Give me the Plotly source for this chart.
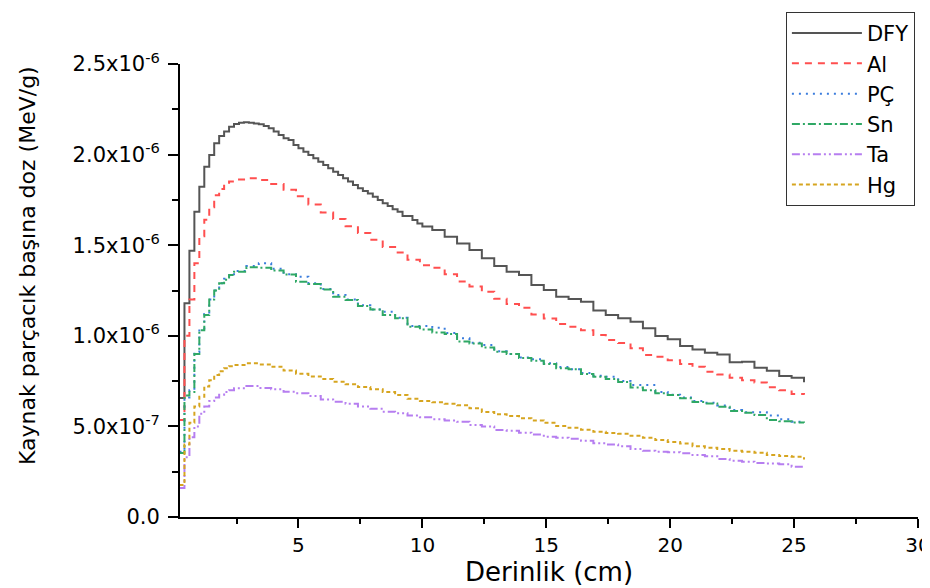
import plotly.graph_objects as go

# ---------------- data (dose per source particle, MeV/g, x1e-6) ----------------
depth_dfy = [0.2, 0.4, 0.6, 0.8, 1.0, 1.2, 1.4, 1.6, 1.8, 2.0,
             2.2, 2.4, 2.6, 2.8, 3.0, 3.2, 3.4, 3.6, 3.8, 4.0,
             4.2, 4.4, 4.6, 4.8, 5.0, 5.2, 5.4, 5.6, 5.8, 6.0,
             6.2, 6.4, 6.6, 6.8, 7.0, 7.2, 7.4, 7.6, 7.8, 8.0,
             8.2, 8.4, 8.6, 8.8, 9.0, 9.2, 9.4, 9.6, 9.8, 10.0,
             10.4, 10.9, 11.4, 11.9, 12.4, 12.9, 13.4, 13.9, 14.4, 14.9,
             15.4, 15.9, 16.4, 16.9, 17.4, 17.9, 18.4, 18.9, 19.4, 19.9,
             20.4, 20.9, 21.4, 21.9, 22.4, 22.9, 23.4, 23.9, 24.4, 24.9, 25.4]
dfy = [0.657, 1.18, 1.47, 1.685, 1.823, 1.933, 1.998, 2.062, 2.103, 2.127,
       2.154, 2.169, 2.176, 2.178, 2.176, 2.172, 2.167, 2.158, 2.145, 2.127,
       2.108, 2.09, 2.08, 2.053, 2.035, 2.016, 1.998, 1.98, 1.961, 1.943,
       1.924, 1.906, 1.887, 1.869, 1.851, 1.832, 1.814, 1.799, 1.786, 1.768,
       1.749, 1.731, 1.716, 1.698, 1.685, 1.661, 1.661, 1.639, 1.62, 1.603,
       1.584, 1.547, 1.51, 1.473, 1.428, 1.385, 1.354, 1.336, 1.28, 1.253,
       1.216, 1.203, 1.188, 1.139, 1.115, 1.097, 1.078, 1.041, 0.999, 0.981,
       0.944, 0.925, 0.907, 0.897, 0.854, 0.857, 0.824, 0.807, 0.778, 0.769, 0.743]

depth = [0.2, 0.4, 0.6, 0.8, 1.0, 1.2, 1.4, 1.6, 1.8, 2.0, 2.2, 2.4,
         2.9, 3.4, 3.9, 4.4, 4.9, 5.4, 5.9, 6.4, 6.9, 7.4, 7.9, 8.4, 8.9,
         9.4, 9.9, 10.4, 10.9, 11.4, 11.9, 12.4, 12.9, 13.4, 13.9, 14.4, 14.9,
         15.4, 15.9, 16.4, 16.9, 17.4, 17.9, 18.4, 18.9, 19.4, 19.9, 20.4, 20.9,
         21.4, 21.9, 22.4, 22.9, 23.4, 23.9, 24.4, 24.9, 25.4]
al = [0.535, 1.0, 1.2, 1.40, 1.55, 1.64, 1.71, 1.775, 1.81, 1.835, 1.852, 1.862,
      1.869, 1.86, 1.838, 1.806, 1.77, 1.725, 1.68, 1.645, 1.605, 1.568, 1.53, 1.49, 1.46,
      1.42, 1.39, 1.376, 1.34, 1.30, 1.272, 1.243, 1.205, 1.175, 1.155, 1.118, 1.095,
      1.065, 1.05, 1.03, 1.005, 0.977, 0.96, 0.931, 0.894, 0.885, 0.865, 0.845, 0.829,
      0.802, 0.786, 0.768, 0.755, 0.742, 0.716, 0.70, 0.679, 0.675]
pc = [0.36, 0.66, 0.70, 0.91, 1.04, 1.12, 1.2, 1.25, 1.29, 1.315, 1.34, 1.358,
      1.385, 1.40, 1.37, 1.34, 1.326, 1.29, 1.258, 1.225, 1.2, 1.168, 1.145, 1.133, 1.1,
      1.054, 1.054, 1.045, 1.015, 0.986, 0.962, 0.949, 0.915, 0.9, 0.88, 0.87, 0.848,
      0.828, 0.815, 0.795, 0.78, 0.774, 0.75, 0.728, 0.728, 0.69, 0.675, 0.66, 0.64,
      0.63, 0.615, 0.59, 0.578, 0.578, 0.56, 0.54, 0.525, 0.522]
sn = [0.353, 0.67, 0.69, 0.9, 1.03, 1.115, 1.2, 1.25, 1.29, 1.31, 1.335, 1.354,
      1.378, 1.376, 1.36, 1.338, 1.298, 1.286, 1.255, 1.216, 1.198, 1.165, 1.145, 1.115, 1.097,
      1.05, 1.035, 1.018, 1.01, 0.968, 0.958, 0.935, 0.912, 0.9, 0.878, 0.862, 0.845,
      0.821, 0.815, 0.789, 0.774, 0.762, 0.745, 0.715, 0.70, 0.683, 0.673, 0.655, 0.635,
      0.627, 0.609, 0.585, 0.575, 0.563, 0.535, 0.528, 0.522, 0.52]
ta = [0.16, 0.33, 0.44, 0.50, 0.57, 0.61, 0.64, 0.66, 0.675, 0.69, 0.70, 0.71,
      0.723, 0.712, 0.705, 0.691, 0.683, 0.668, 0.649, 0.636, 0.625, 0.61, 0.597, 0.581, 0.572,
      0.56, 0.55, 0.54, 0.533, 0.525, 0.508, 0.5, 0.48, 0.476, 0.465, 0.455, 0.443,
      0.437, 0.432, 0.421, 0.407, 0.4, 0.39, 0.375, 0.365, 0.36, 0.357, 0.352, 0.342,
      0.335, 0.32, 0.31, 0.305, 0.298, 0.295, 0.291, 0.278, 0.278]
hg = [0.177, 0.40, 0.52, 0.61, 0.664, 0.72, 0.755, 0.784, 0.805, 0.821, 0.832, 0.839,
      0.848, 0.842, 0.829, 0.808, 0.79, 0.776, 0.762, 0.747, 0.733, 0.717, 0.705, 0.69, 0.673,
      0.652, 0.64, 0.633, 0.625, 0.617, 0.6, 0.58, 0.567, 0.557, 0.545, 0.533, 0.52,
      0.502, 0.492, 0.482, 0.471, 0.464, 0.46, 0.448, 0.437, 0.425, 0.414, 0.405, 0.39,
      0.382, 0.375, 0.365, 0.36, 0.355, 0.342, 0.336, 0.333, 0.318]

scale = 1e-6
y_tickvals = [0.0, 0.5e-6, 1.0e-6, 1.5e-6, 2.0e-6, 2.5e-6]
y_ticktext = ["0.0", "5.0x10<sup>-7</sup>", "1.0x10<sup>-6</sup>", "1.5x10<sup>-6</sup>",
              "2.0x10<sup>-6</sup>", "2.5x10<sup>-6</sup>"]
y_minor = [0.25e-6, 0.75e-6, 1.25e-6, 1.75e-6, 2.25e-6]
x_tickvals = [5, 10, 15, 20, 25, 30]
x_minor = [2.5, 7.5, 12.5, 17.5, 22.5, 27.5]
x_title = "Derinlik (cm)"
y_title = "Kaynak parçacık başına doz (MeV/g)"

FONT = "DejaVu Sans, Liberation Sans, Arial, sans-serif"

series = [
    ("DFY", depth_dfy, dfy, "#555555", "solid"),
    ("Al", depth, al, "#ff4f4f", "7px,6px"),
    ("PÇ", depth, pc, "#3b7ddd", "2px,5px"),
    ("Sn", depth, sn, "#2fa865", "8px,3px,2px,3px"),
    ("Ta", depth, ta, "#b67ef0", "8px,3px,2px,3px,2px,3px"),
    ("Hg", depth, hg, "#d6a520", "4px,3px"),
]

fig = go.Figure()
for name, xs, ys, color, dash in series:
    assert len(xs) == len(ys), name
    fig.add_trace(go.Scatter(
        x=xs, y=[v * scale for v in ys], name=name, mode="lines",
        line=dict(color=color, width=2, dash=dash, shape="hv"),
    ))

fig.update_layout(
    width=922, height=580,
    margin=dict(l=172, r=12, t=56, b=71, autoexpand=False),
    plot_bgcolor="white", paper_bgcolor="white",
    font=dict(family=FONT, color="black", size=20),
    showlegend=True,
    legend=dict(
        x=0.821, y=1.115, xanchor="left", yanchor="top",
        bordercolor="#333333", borderwidth=1, bgcolor="white",
        font=dict(size=21, family=FONT), itemwidth=70,
        tracegroupgap=0, traceorder="normal",
    ),
    annotations=[dict(
        text=y_title, textangle=-90, xref="paper", yref="paper",
        x=-0.2073, y=0.554, xanchor="center", yanchor="middle",
        showarrow=False, font=dict(size=22, family=FONT, color="black"),
    )],
)
fig.update_xaxes(
    range=[0.22, 30], showgrid=False, zeroline=False,
    showline=True, linecolor="black", linewidth=2,
    ticks="outside", ticklen=9, tickwidth=2, tickcolor="black",
    tickmode="array", tickvals=x_tickvals, ticklabeloverflow="allow",
    minor=dict(tickmode="array", tickvals=x_minor, ticks="outside", ticklen=5,
               tickwidth=2, tickcolor="black", showgrid=False),
    tickfont=dict(size=20),
    title=dict(text=x_title, font=dict(size=26), standoff=5),
)
fig.update_yaxes(
    range=[0, 2.5e-6], showgrid=False, zeroline=False,
    showline=True, linecolor="black", linewidth=2,
    ticks="outside", ticklen=10, tickwidth=2, tickcolor="black",
    tickmode="array", tickvals=y_tickvals, ticktext=y_ticktext,
    ticklabelstandoff=4,
    minor=dict(tickmode="array", tickvals=y_minor, ticks="outside", ticklen=6,
               tickwidth=2, tickcolor="black", showgrid=False),
    tickfont=dict(size=21),
)

fig.write_html("out.html")
